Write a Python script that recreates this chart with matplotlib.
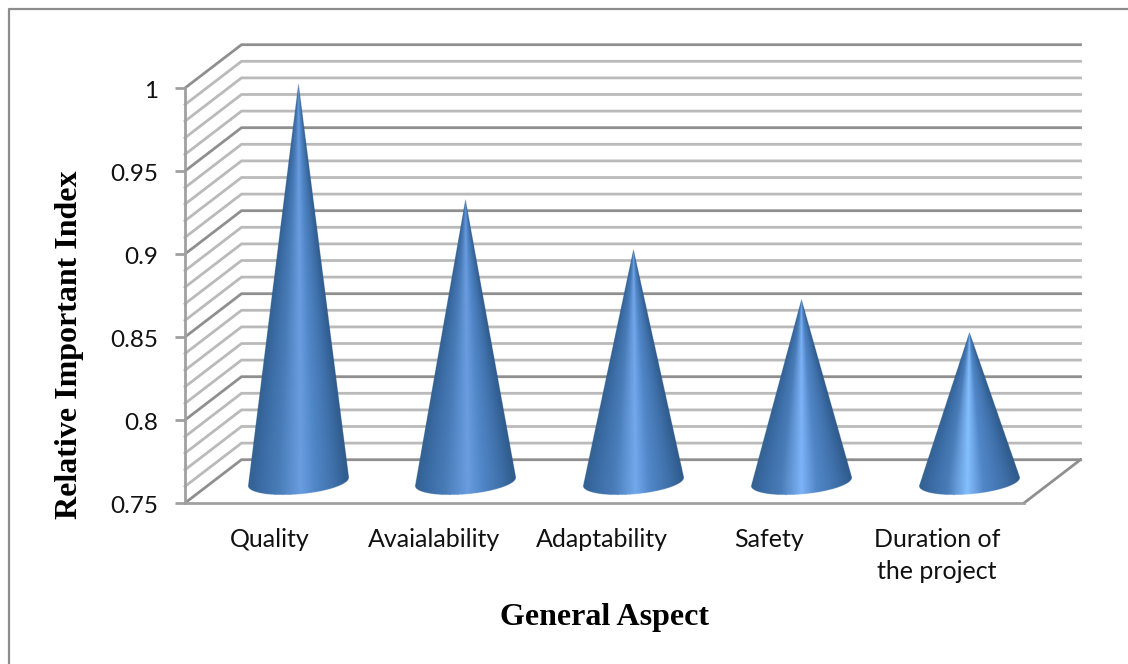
import matplotlib
matplotlib.use('Agg')
import matplotlib.pyplot as plt
import matplotlib.transforms as mtrans
import numpy as np
from matplotlib.colors import LinearSegmentedColormap
from matplotlib.lines import Line2D
from matplotlib.path import Path

categories = ['Quality', 'Avaialability', 'Adaptability', 'Safety', 'Duration of\nthe project']
values = [0.99, 0.92, 0.89, 0.86, 0.84]
ytick_values = [0.75, 0.8, 0.85, 0.9, 0.95, 1]
ytick_labels = ['0.75', '0.8', '0.85', '0.9', '0.95', '1']

# highlight of each cone: where it sits across the width, and its colour
highlight_pos = [0.52, 0.52, 0.52, 0.50, 0.48]
highlight_col = ['#6a9de0', '#6a9de0', '#72a8ec', '#7db4f8', '#85bfff']

W, H = 1128, 664
LEFT, RIGHT, TOP, BOTTOM = 185, 1024, 88, 503
MAJOR = '#8f8f8f'
MINOR = '#bababa'
LABEL_SHIFT = [1, -3, -3, -3, -3]

fig = plt.figure(figsize=(W / 100, H / 100), dpi=100)
ax = fig.add_axes([LEFT / W, 1 - BOTTOM / H, (RIGHT - LEFT) / W, (BOTTOM - TOP) / H])

# size of one pixel in data units
px_x = 5 / (RIGHT - LEFT)
px_y = 0.25 / (BOTTOM - TOP)
depth_x = 56.5 * px_x
depth_y = 43.3 * px_y


def wall_lines():
    for i in range(26):
        v = 0.75 + i * 0.01
        major = i % 5 == 0
        col = MAJOR if major else MINOR
        # side wall then back wall
        ax.plot([0, depth_x, 5 + depth_x], [v, v + depth_y, v + depth_y],
                color=col, lw=2.0, clip_on=False, zorder=1, solid_joinstyle='miter')
    # right edge of the floor
    ax.plot([5, 5 + depth_x], [0.75, 0.75 + depth_y], color=MAJOR, lw=2.0, clip_on=False, zorder=1)


def cone_cmap(pos, light):
    return LinearSegmentedColormap.from_list('cone', [
        (0.0, '#32608f'),
        (0.12, '#3a6ba4'),
        (pos * 0.6, '#4a7db9'),
        (pos, light),
        (pos + (1 - pos) * 0.3, '#5187c8'),
        (pos + (1 - pos) * 0.7, '#3f70aa'),
        (1.0, '#2f5b8c'),
    ])


def draw_cone(i, value):
    # base ellipse is tilted a little, only its front half is seen
    a, b = 50.5, 12.5
    tilt = np.radians(5)
    cx = i + 0.5 + depth_x / 2 + 0.8 * px_x
    cy = 0.75 + depth_y / 2
    t = np.linspace(np.pi, 2 * np.pi, 121)
    ex = cx + (a * np.cos(t) * np.cos(tilt) - b * np.sin(t) * np.sin(tilt)) * px_x
    ey = cy + (a * np.cos(t) * np.sin(tilt) + b * np.sin(t) * np.cos(tilt)) * px_y
    tip = value + depth_y / 2
    outline = Path(np.column_stack([np.r_[cx, ex], np.r_[tip, ey]]))

    x0, x1 = ex.min() - 2 * px_x, ex.max() + 2 * px_x
    y0, y1 = ey.min() - 2 * px_y, tip + 2 * px_y
    # four samples per screen pixel, the image resampling smooths the edges
    nx = int((x1 - x0) / px_x * 4)
    ny = int((y1 - y0) / px_y * 4)
    gx, gy = np.meshgrid(np.linspace(x0, x1, nx), np.linspace(y1, y0, ny))

    # shading is a fraction of the width at each height, so it narrows to the tip
    half = a * px_x * np.clip((tip - gy) / (tip - cy), 1e-3, 1)
    u = np.clip(0.5 + (gx - cx) / (2 * half), 0, 1)
    rgba = cone_cmap(highlight_pos[i], highlight_col[i])(u)
    inside = outline.contains_points(np.column_stack([gx.ravel(), gy.ravel()]))
    rgba[..., 3] = inside.reshape(gx.shape).astype(float)
    ax.imshow(rgba, extent=(x0, x1, y0, y1), aspect='auto', zorder=3, clip_on=False,
              interpolation='hanning', interpolation_stage='rgba')


wall_lines()
for i, v in enumerate(values):
    draw_cone(i, v)

ax.set_xlim(0, 5)
ax.set_ylim(0.75, 1)

for side in ['top', 'right']:
    ax.spines[side].set_visible(False)
for side in ['left', 'bottom']:
    ax.spines[side].set_color('#a0a0a0')
    ax.spines[side].set_linewidth(2.0)
    ax.spines[side].set_zorder(2)

ax.set_yticks(ytick_values)
ax.set_yticklabels(ytick_labels, fontfamily='Lato', fontsize=17.5, color='#111111')
ax.tick_params(axis='y', length=7, width=2.0, color='#a0a0a0', pad=12)
# nudge the value labels down a touch
nudge = mtrans.ScaledTranslation(0, -1.5 / 100, fig.dpi_scale_trans)
for lab in ax.get_yticklabels():
    lab.set_transform(lab.get_transform() + nudge)
ax.set_xticks(np.arange(5) + 0.5 + np.array(LABEL_SHIFT) * px_x)
ax.set_xticklabels(categories, fontfamily='Lato', fontsize=18, color='#111111', linespacing=1.45)
ax.tick_params(axis='x', length=0, pad=18)

fig.text(604 / W, 1 - 617 / H, 'General Aspect', family='Liberation Serif', weight='bold',
         fontsize=23, ha='center', va='center', color='black')
fig.text(70 / W, 1 - 345 / H, 'Relative Important Index', family='Liberation Serif', weight='bold',
         fontsize=23, rotation=90, ha='center', va='center', color='black')

# outer frame of the chart, runs off the right and bottom of the image
fig.add_artist(Line2D([8.5 / W, 8.5 / W, 1], [0, 1 - 8.5 / H, 1 - 8.5 / H],
                      color='#8c8c8c', lw=1.6, transform=fig.transFigure))

fig.savefig('out.png', dpi=100, facecolor='white')
